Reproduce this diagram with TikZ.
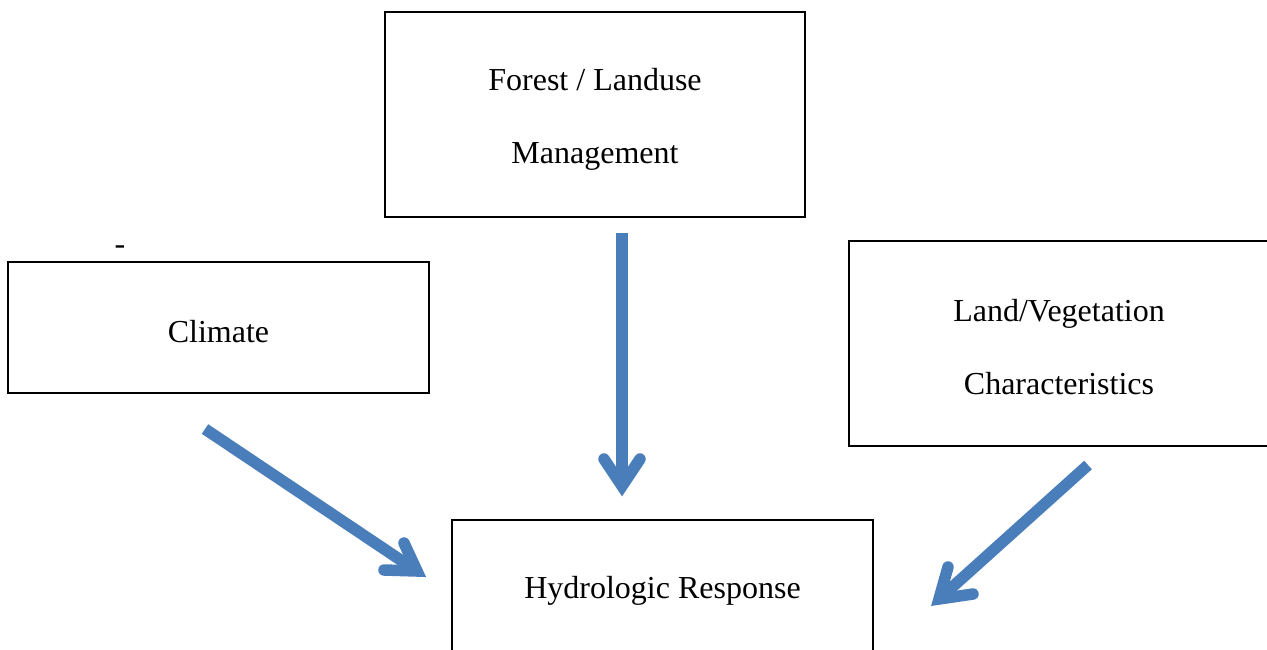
\documentclass[tikz,border=0pt]{standalone}
\usepackage{fontspec}
\setmainfont{Liberation Serif}
\definecolor{arrowblue}{RGB}{74,126,187}
\tikzset{
  box/.style={draw=black, line width=1.8pt, fill=white, inner sep=0pt},
  txt/.style={inner sep=0pt, align=center, font=\fontsize{32}{73}\selectfont},
  shaft/.style={draw=arrowblue, line width=11.5pt, line cap=butt},
  barbs/.style={draw=arrowblue, line width=11.5pt, line cap=round, line join=miter, miter limit=20},
}
\begin{document}
\begin{tikzpicture}[x=1pt,y=-1pt]
\useasboundingbox (0,0) rectangle (1267,649);
\clip (0,0) rectangle (1267,649);
\node[box, minimum width=420pt, minimum height=205pt] (forest) at (595,114.5) {};
\node[txt] (forestT) at (595,119) {Forest / Landuse\\Management};
\node[box, minimum width=421pt, minimum height=131pt] (climate) at (218.5,327.5) {};
\node[txt] (climateT) at (218.5,331.5) {Climate};
\node[box, minimum width=420pt, minimum height=205pt] (land) at (1059,343.5) {};
\node[txt] (landT) at (1059,347.5) {Land/Vegetation\\Characteristics};
\node[box, minimum width=421pt, minimum height=134pt] (hydro) at (662.5,587) {};
\node[txt] (hydroT) at (662.5,591) {Hydrologic Response};
\node[txt] (dash) at (120,250) {-};
% arrow from forest
\coordinate (fs) at (622,233);
\coordinate (ft) at (622,486);
\coordinate (fl) at (604,459);
\coordinate (fr) at (640,459);
\draw[shaft] (fs) -- (ft);
\draw[barbs] (fl) -- (ft) -- (fr);
% arrow from climate
\coordinate (cs) at (205,429);
\coordinate (ct) at (417,571);
\coordinate (cu) at (404,543);
\coordinate (cl) at (384,570);
\draw[shaft] (cs) -- (ct);
\draw[barbs] (cu) -- (ct) -- (cl);
% arrow from land
\coordinate (ls) at (1088,465);
\coordinate (lt) at (939,599);
\coordinate (lu) at (948,567);
\coordinate (ll) at (973,594);
\draw[shaft] (ls) -- (lt);
\draw[barbs] (lu) -- (lt) -- (ll);
\end{tikzpicture}
\end{document}
